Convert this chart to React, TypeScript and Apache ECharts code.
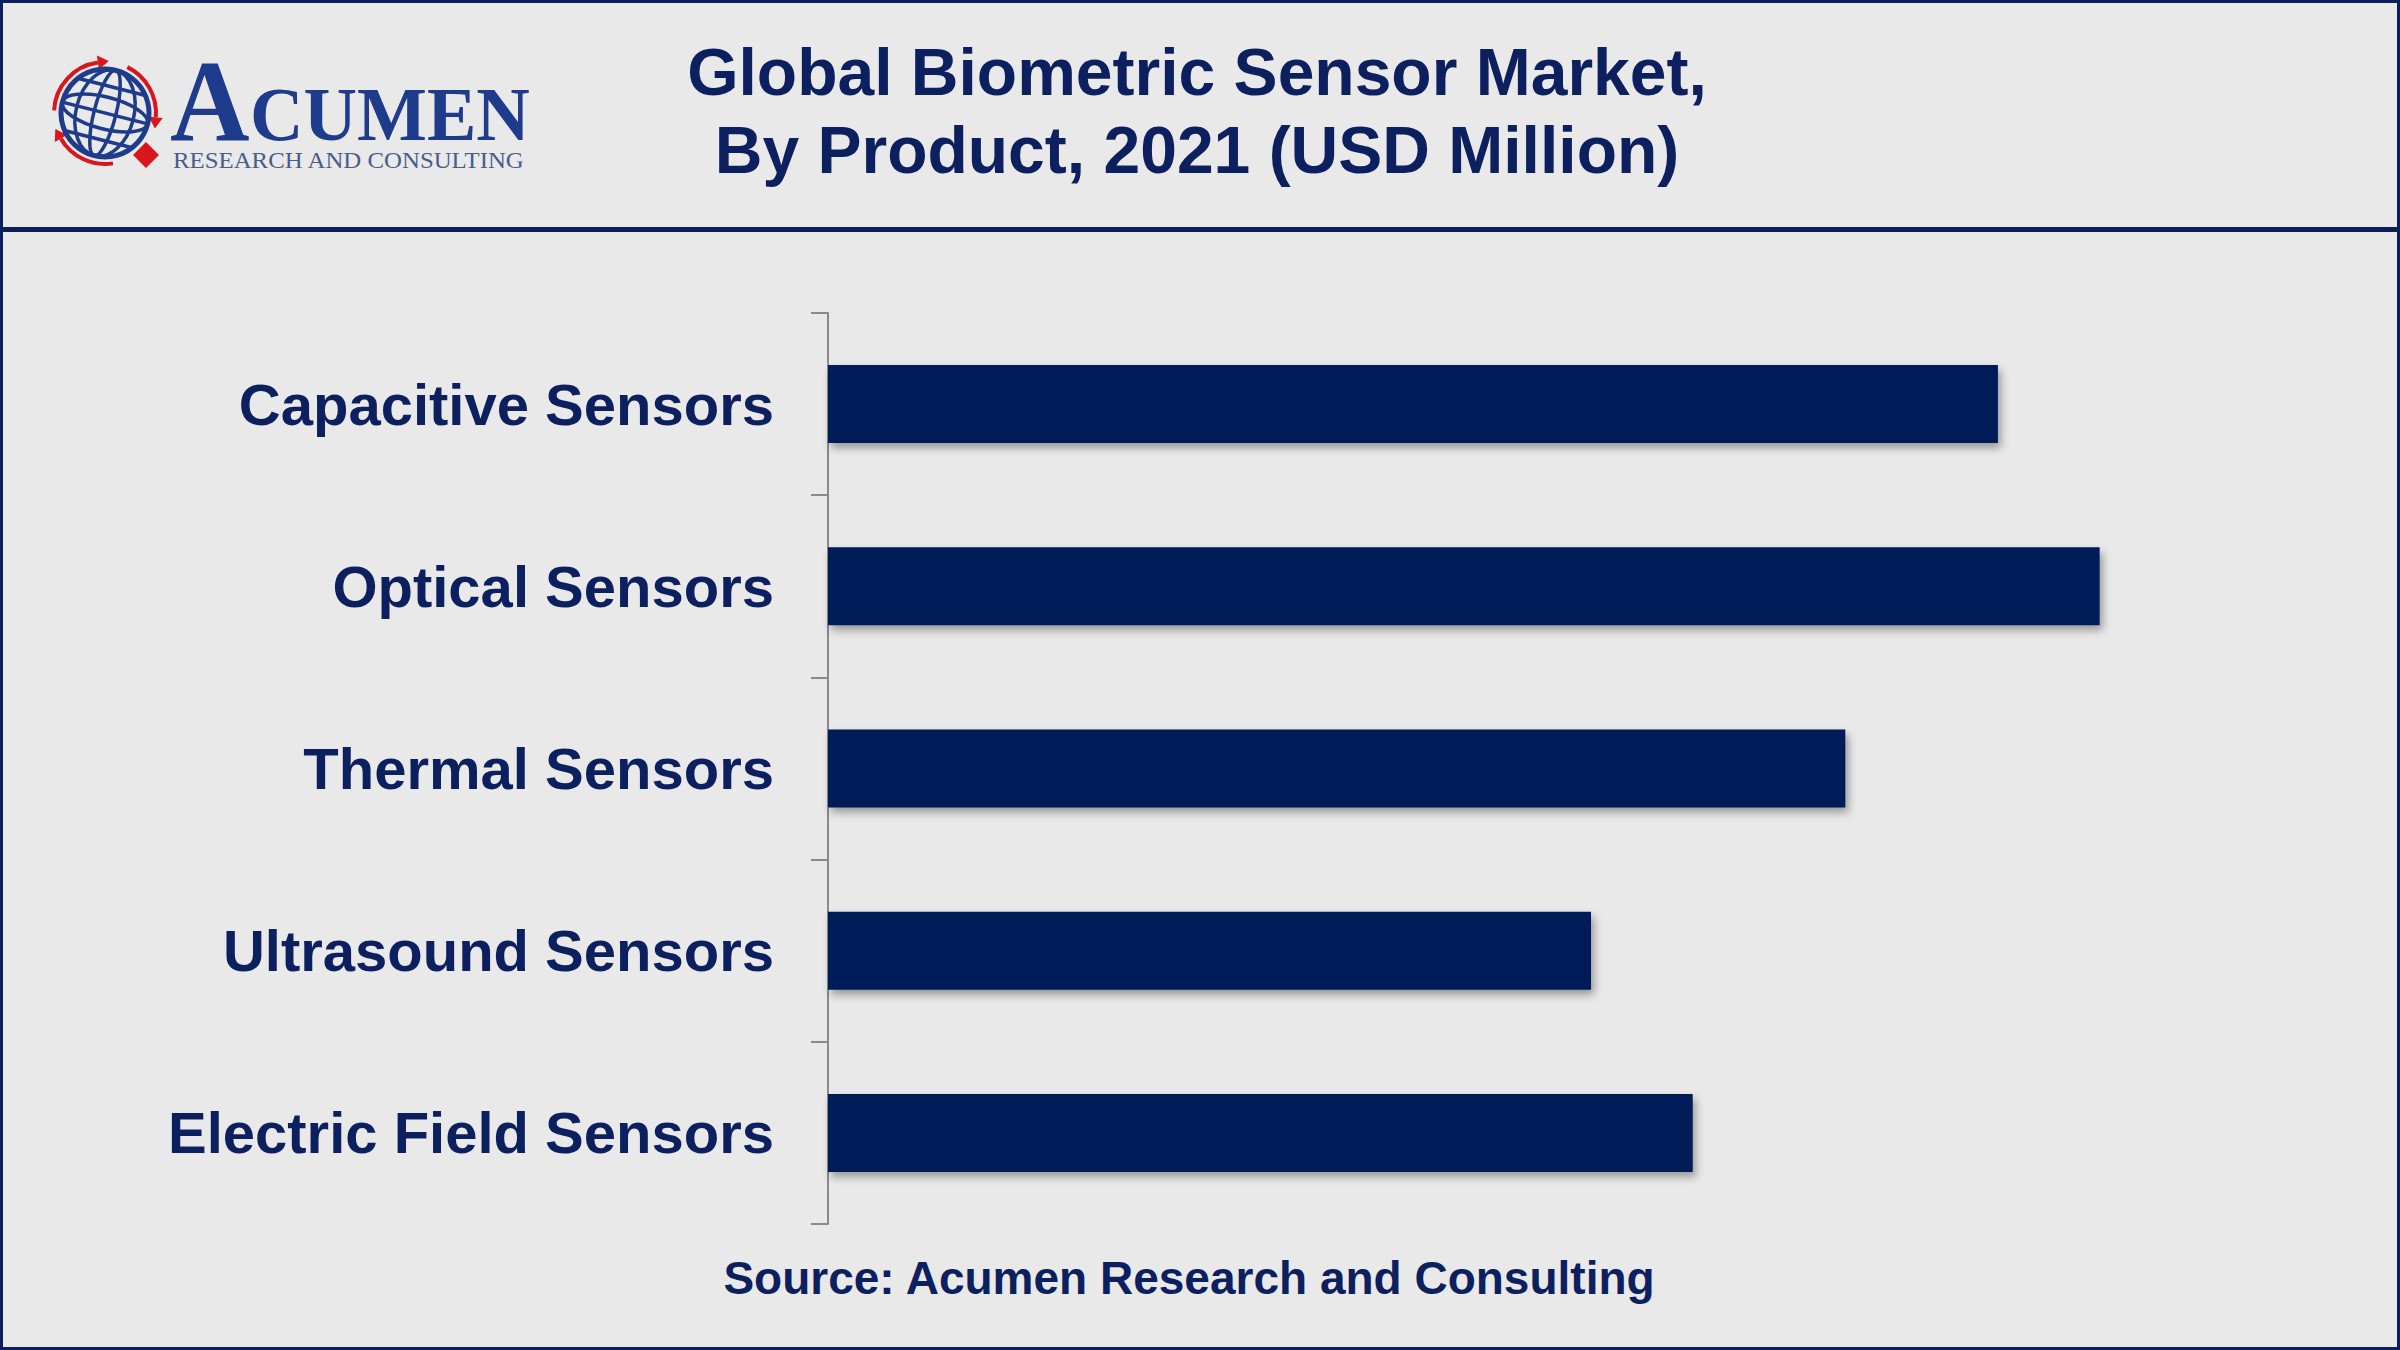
import React, { useEffect, useRef } from "react";
import * as echarts from "echarts";

const categories = [
  "Capacitive Sensors",
  "Optical Sensors",
  "Thermal Sensors",
  "Ultrasound Sensors",
  "Electric Field Sensors",
];
const values = [460, 500, 400, 300, 340];
const titleLines = ["Global Biometric Sensor Market,", "By Product, 2021 (USD Million)"];
const sourceText = "Source: Acumen Research and Consulting";

const NAVY = "#0c1f5e";
const BAR = "#011c58";
const BG = "#e9e9e9";
const LOGO_BLUE = "#1f3c8c";
const LOGO_RED = "#d9161c";

function arrowHead(cx: number, cy: number, r: number, deg: number) {
  const t = (deg * Math.PI) / 180;
  const px = cx + r * Math.cos(t);
  const py = cy + r * Math.sin(t);
  const tx = -Math.sin(t);
  const ty = Math.cos(t);
  const nx = Math.cos(t);
  const ny = Math.sin(t);
  return {
    type: "polygon",
    shape: {
      points: [
        [px + tx * 11, py + ty * 11],
        [px + nx * 7, py + ny * 7],
        [px - nx * 7, py - ny * 7],
      ],
    },
    style: { fill: LOGO_RED },
  };
}

function buildLogo() {
  const cx = 105;
  const cy = 113;
  const r = 44;
  const ar = 51;
  const rad = (d: number) => (d * Math.PI) / 180;
  const arcs = [
    [183, 262],
    [296, 365],
    [81, 150],
  ];
  const els: any[] = [];
  arcs.forEach(([a, b]) => {
    els.push({
      type: "arc",
      shape: { cx, cy, r: ar, startAngle: rad(a), endAngle: rad(b), clockwise: true },
      style: { stroke: LOGO_RED, lineWidth: 4, fill: "none" },
    });
    els.push(arrowHead(cx, cy, ar, b));
  });
  const globe: any[] = [
    { type: "circle", shape: { cx: 0, cy: 0, r }, style: { stroke: LOGO_BLUE, lineWidth: 5, fill: "none" } },
    { type: "ellipse", shape: { cx: 0, cy: 0, rx: 29, ry: r }, style: { stroke: LOGO_BLUE, lineWidth: 3.5, fill: "none" } },
    { type: "ellipse", shape: { cx: 0, cy: 0, rx: 11, ry: r }, style: { stroke: LOGO_BLUE, lineWidth: 3.5, fill: "none" } },
    { type: "ellipse", shape: { cx: 0, cy: 0, rx: r, ry: 16 }, style: { stroke: LOGO_BLUE, lineWidth: 3.5, fill: "none" } },
    { type: "line", shape: { x1: -r, y1: 0, x2: r, y2: 0 }, style: { stroke: LOGO_BLUE, lineWidth: 3.5 } },
    { type: "line", shape: { x1: -36, y1: -27, x2: 36, y2: -27 }, style: { stroke: LOGO_BLUE, lineWidth: 3.5 } },
    { type: "line", shape: { x1: -36, y1: 27, x2: 36, y2: 27 }, style: { stroke: LOGO_BLUE, lineWidth: 3.5 } },
  ];
  els.push({ type: "group", x: cx, y: cy, rotation: -0.25, children: globe });
  els.push({
    type: "polygon",
    shape: { points: [[146, 142], [159, 155], [146, 168], [133, 155]] },
    style: { fill: LOGO_RED },
  });
  els.push({
    type: "text",
    x: 170,
    y: 159,
    scaleX: 0.95,
    style: {
      text: "A",
      fill: LOGO_BLUE,
      font: 'bold 116px "Liberation Serif", "DejaVu Serif", serif',
      align: "left",
      verticalAlign: "bottom",
    },
  });
  els.push({
    type: "text",
    x: 250,
    y: 152,
    scaleX: 0.975,
    style: {
      text: "CUMEN",
      fill: LOGO_BLUE,
      font: 'bold 76px "Liberation Serif", "DejaVu Serif", serif',
      align: "left",
      verticalAlign: "bottom",
    },
  });
  els.push({
    type: "text",
    x: 173,
    y: 160,
    scaleX: 1.08,
    style: {
      text: "RESEARCH AND CONSULTING",
      fill: "#4a5c8c",
      font: '23px "Liberation Serif", "DejaVu Serif", serif',
      align: "left",
      verticalAlign: "middle",
    },
  });
  return els;
}

export default function App() {
  const ref = useRef<HTMLDivElement>(null);
  useEffect(() => {
    if (!ref.current) return;
    const chart = echarts.init(ref.current, null, { renderer: "svg" });
    const option: any = {
      animation: false,
      backgroundColor: BG,
      grid: { left: 828, top: 313, width: 1526, bottom: 126, containLabel: false },
      xAxis: { type: "value", min: 0, max: 600, show: false },
      yAxis: {
        type: "category",
        data: categories,
        inverse: true,
        axisLine: { show: true, lineStyle: { color: "#8a8a8a", width: 2 } },
        axisTick: { show: true, length: 17, lineStyle: { color: "#8a8a8a", width: 2 } },
        axisLabel: {
          margin: 54,
          color: NAVY,
          fontSize: 58,
          fontWeight: "bold",
          fontFamily: '"Liberation Sans", Arial, sans-serif',
        },
        splitLine: { show: false },
      },
      series: [
        {
          type: "bar",
          data: values,
          barWidth: 78,
          itemStyle: {
            color: BAR,
            shadowBlur: 8,
            shadowOffsetX: 3,
            shadowOffsetY: 5,
            shadowColor: "rgba(0,0,0,0.35)",
          },
          z: 1,
        },
      ],
      graphic: [
        {
          type: "rect",
          shape: { x: 1.5, y: 1.5, width: 2397, height: 1347 },
          style: { fill: "none", stroke: "#0b1f5c", lineWidth: 3 },
          z: 10,
        },
        {
          type: "rect",
          shape: { x: 0, y: 227, width: 2400, height: 5 },
          style: { fill: "#0b1f5c" },
          z: 10,
        },
        {
          type: "text",
          x: 1197,
          y: 72,
          style: {
            text: titleLines[0],
            fill: NAVY,
            font: 'bold 66px "Liberation Sans", Arial, sans-serif',
            align: "center",
            verticalAlign: "middle",
          },
        },
        {
          type: "text",
          x: 1197,
          y: 150,
          style: {
            text: titleLines[1],
            fill: NAVY,
            font: 'bold 66px "Liberation Sans", Arial, sans-serif',
            align: "center",
            verticalAlign: "middle",
          },
        },
        {
          type: "text",
          x: 1189,
          y: 1278,
          style: {
            text: sourceText,
            fill: NAVY,
            font: 'bold 46px "Liberation Sans", Arial, sans-serif',
            align: "center",
            verticalAlign: "middle",
          },
        },
        ...buildLogo(),
      ],
    };
    chart.setOption(option);
    return () => chart.dispose();
  }, []);
  return (
    <div
      ref={ref}
      style={{ position: "fixed", left: 0, top: 0, width: 2400, height: 1350 }}
    />
  );
}
